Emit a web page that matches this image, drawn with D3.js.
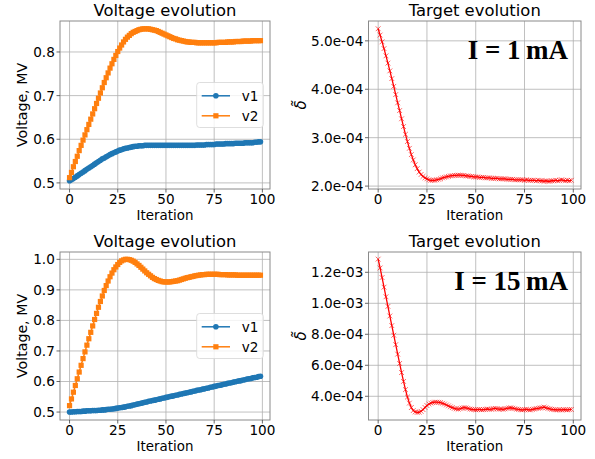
<!DOCTYPE html>
<html><head><meta charset="utf-8">
<script src="https://cdn.jsdelivr.net/npm/d3@7"></script>
<style>body{margin:0;background:#fff} text{font-family:"DejaVu Sans",sans-serif;fill:#000}</style>
</head><body><svg id="c" width="595" height="459"></svg>
<script>
const iterations = d3.range(100);
const xTicks = [0, 25, 50, 75, 100];

const v1_1mA = [0.505,0.507,0.510,0.513,0.516,0.519,0.522,0.525,0.528,0.531,
0.534,0.537,0.540,0.543,0.546,0.549,0.552,0.555,0.557,0.560,
0.562,0.565,0.567,0.569,0.571,0.573,0.575,0.576,0.578,0.579,
0.580,0.581,0.582,0.583,0.584,0.584,0.585,0.585,0.585,0.586,
0.586,0.586,0.586,0.586,0.586,0.586,0.586,0.586,0.586,0.586,
0.586,0.586,0.586,0.586,0.586,0.586,0.586,0.586,0.586,0.586,
0.586,0.586,0.586,0.586,0.586,0.586,0.587,0.587,0.587,0.587,
0.587,0.588,0.588,0.588,0.588,0.588,0.589,0.589,0.589,0.589,
0.589,0.590,0.590,0.590,0.590,0.590,0.591,0.591,0.591,0.591,
0.591,0.592,0.592,0.592,0.592,0.592,0.593,0.593,0.594,0.594];

const v2_1mA = [0.512,0.524,0.537,0.549,0.561,0.574,0.586,0.598,0.610,0.622,
0.634,0.646,0.658,0.670,0.682,0.694,0.706,0.718,0.730,0.741,
0.752,0.763,0.773,0.783,0.792,0.801,0.809,0.816,0.823,0.829,
0.834,0.838,0.842,0.845,0.847,0.849,0.851,0.852,0.853,0.853,
0.853,0.853,0.852,0.851,0.850,0.849,0.847,0.845,0.843,0.841,
0.839,0.837,0.835,0.833,0.831,0.830,0.828,0.827,0.826,0.825,
0.824,0.823,0.823,0.822,0.822,0.822,0.821,0.821,0.821,0.821,
0.821,0.821,0.821,0.821,0.821,0.821,0.821,0.822,0.822,0.822,
0.822,0.822,0.823,0.823,0.823,0.823,0.824,0.824,0.824,0.824,
0.825,0.825,0.825,0.825,0.825,0.826,0.826,0.826,0.826,0.826];

const delta_1mA = [5.25e-4,5.12e-4,4.98e-4,4.84e-4,4.69e-4,4.54e-4,4.38e-4,4.22e-4,4.06e-4,3.89e-4,
3.72e-4,3.56e-4,3.39e-4,3.23e-4,3.07e-4,2.92e-4,2.78e-4,2.65e-4,2.54e-4,2.44e-4,
2.36e-4,2.29e-4,2.24e-4,2.20e-4,2.17e-4,2.15e-4,2.13e-4,2.12e-4,2.12e-4,2.12e-4,
2.13e-4,2.14e-4,2.15e-4,2.17e-4,2.18e-4,2.19e-4,2.20e-4,2.21e-4,2.215e-4,2.22e-4,
2.22e-4,2.225e-4,2.225e-4,2.22e-4,2.22e-4,2.21e-4,2.21e-4,2.20e-4,2.20e-4,2.19e-4,
2.19e-4,2.19e-4,2.18e-4,2.18e-4,2.18e-4,2.17e-4,2.17e-4,2.17e-4,2.16e-4,2.16e-4,
2.16e-4,2.16e-4,2.15e-4,2.15e-4,2.15e-4,2.15e-4,2.14e-4,2.14e-4,2.14e-4,2.14e-4,
2.13e-4,2.13e-4,2.13e-4,2.13e-4,2.13e-4,2.12e-4,2.13e-4,2.12e-4,2.12e-4,2.12e-4,
2.12e-4,2.11e-4,2.12e-4,2.11e-4,2.11e-4,2.10e-4,2.11e-4,2.10e-4,2.10e-4,2.11e-4,
2.11e-4,2.12e-4,2.11e-4,2.12e-4,2.13e-4,2.12e-4,2.11e-4,2.12e-4,2.11e-4,2.12e-4];

const v1_15mA = [0.500,0.500,0.501,0.501,0.502,0.502,0.502,0.503,0.503,0.504,
0.504,0.504,0.505,0.505,0.505,0.506,0.506,0.507,0.507,0.508,
0.509,0.509,0.510,0.511,0.512,0.513,0.514,0.515,0.516,0.517,
0.519,0.520,0.521,0.523,0.524,0.526,0.527,0.529,0.530,0.532,
0.533,0.535,0.536,0.538,0.539,0.540,0.542,0.543,0.545,0.546,
0.548,0.549,0.551,0.552,0.553,0.555,0.556,0.558,0.559,0.561,
0.562,0.563,0.565,0.566,0.568,0.569,0.571,0.572,0.573,0.575,
0.576,0.578,0.579,0.581,0.582,0.584,0.585,0.587,0.588,0.589,
0.591,0.592,0.594,0.595,0.596,0.598,0.599,0.601,0.602,0.603,
0.605,0.606,0.608,0.609,0.610,0.612,0.613,0.614,0.616,0.617];

const v2_15mA = [0.521,0.543,0.565,0.587,0.609,0.631,0.653,0.675,0.697,0.719,
0.740,0.761,0.782,0.803,0.823,0.843,0.862,0.880,0.898,0.914,
0.929,0.943,0.955,0.966,0.975,0.983,0.990,0.995,0.998,1.000,
1.000,0.999,0.997,0.994,0.990,0.985,0.980,0.974,0.968,0.962,
0.956,0.951,0.946,0.941,0.937,0.934,0.931,0.929,0.927,0.926,
0.926,0.926,0.926,0.927,0.928,0.929,0.930,0.932,0.934,0.936,
0.938,0.940,0.941,0.943,0.944,0.946,0.947,0.948,0.949,0.950,
0.950,0.951,0.951,0.951,0.951,0.951,0.951,0.951,0.950,0.950,
0.950,0.950,0.949,0.949,0.949,0.949,0.949,0.948,0.948,0.948,
0.948,0.948,0.948,0.948,0.948,0.948,0.948,0.948,0.948,0.948];

const delta_15mA = [12.85e-4,12.28e-4,11.66e-4,11.04e-4,10.42e-4,9.80e-4,9.18e-4,8.56e-4,7.94e-4,7.33e-4,
6.72e-4,6.12e-4,5.53e-4,4.96e-4,4.43e-4,3.95e-4,3.56e-4,3.27e-4,3.08e-4,2.99e-4,
2.96e-4,2.97e-4,3.03e-4,3.14e-4,3.28e-4,3.40e-4,3.50e-4,3.56e-4,3.60e-4,3.62e-4,
3.62e-4,3.61e-4,3.59e-4,3.55e-4,3.50e-4,3.44e-4,3.38e-4,3.32e-4,3.27e-4,3.22e-4,
3.19e-4,3.17e-4,3.20e-4,3.24e-4,3.27e-4,3.25e-4,3.22e-4,3.18e-4,3.16e-4,3.14e-4,
3.13e-4,3.14e-4,3.15e-4,3.13e-4,3.14e-4,3.16e-4,3.18e-4,3.16e-4,3.17e-4,3.20e-4,
3.22e-4,3.19e-4,3.17e-4,3.18e-4,3.16e-4,3.19e-4,3.22e-4,3.24e-4,3.26e-4,3.23e-4,
3.20e-4,3.17e-4,3.15e-4,3.13e-4,3.12e-4,3.14e-4,3.16e-4,3.13e-4,3.12e-4,3.15e-4,
3.18e-4,3.21e-4,3.22e-4,3.25e-4,3.27e-4,3.30e-4,3.26e-4,3.22e-4,3.19e-4,3.16e-4,
3.14e-4,3.13e-4,3.12e-4,3.13e-4,3.12e-4,3.14e-4,3.13e-4,3.12e-4,3.14e-4,3.15e-4];

const voltTicksA = [0.5, 0.6, 0.7, 0.8];
const voltLabelsA = ["0.5", "0.6", "0.7", "0.8"];
const voltTicksB = [0.5, 0.6, 0.7, 0.8, 0.9, 1.0];
const voltLabelsB = ["0.5", "0.6", "0.7", "0.8", "0.9", "1.0"];
const deltaTicksA = [2e-4, 3e-4, 4e-4, 5e-4];
const deltaLabelsA = ["2.0e-04", "3.0e-04", "4.0e-04", "5.0e-04"];
const deltaTicksB = [4e-4, 6e-4, 8e-4, 10e-4, 12e-4];
const deltaLabelsB = ["4.0e-04", "6.0e-04", "8.0e-04", "1.0e-03", "1.2e-03"];
const seriesNames = ["v1", "v2"];
const notes = ["I = 1\u2009mA", "I = 15\u2009mA"];

const svg = d3.select("#c");
const BLUE = "#1f77b4", ORANGE = "#ff7f0e", RED = "#ff0000";
const TICKFS = 13.6;

function panel(o) {
  const x = d3.scaleLinear().domain([-4.95, 103.95]).range([o.x0, o.x1]);
  const y = d3.scaleLinear().domain(o.yDomain).range([o.y1, o.y0]);
  const g = svg.append("g");
  g.selectAll(".gx").data(xTicks).enter().append("line")
    .attr("x1", d => x(d)).attr("x2", d => x(d)).attr("y1", o.y0).attr("y2", o.y1)
    .attr("stroke", "#b0b0b0").attr("stroke-width", 0.8);
  g.selectAll(".gy").data(o.yTicks).enter().append("line")
    .attr("y1", d => y(d)).attr("y2", d => y(d)).attr("x1", o.x0).attr("x2", o.x1)
    .attr("stroke", "#b0b0b0").attr("stroke-width", 0.8);
  o.series.forEach(s => {
    const line = d3.line().x((d, i) => x(iterations[i])).y(d => y(d));
    g.append("path").attr("d", line(s.data)).attr("fill", "none")
      .attr("stroke", s.color).attr("stroke-width", s.lw);
    const mg = g.append("g");
    s.data.forEach((d, i) => drawMarker(mg, s.marker, x(iterations[i]), y(d), s.color));
  });
  g.append("rect").attr("x", o.x0).attr("y", o.y0).attr("width", o.x1 - o.x0).attr("height", o.y1 - o.y0)
    .attr("fill", "none").attr("stroke", "#8a8a8a").attr("stroke-width", 1);
  xTicks.forEach(t => {
    g.append("line").attr("x1", x(t)).attr("x2", x(t)).attr("y1", o.y1).attr("y2", o.y1 + 3.5)
      .attr("stroke", "#444").attr("stroke-width", 0.8);
    g.append("text").attr("x", x(t)).attr("y", o.y1 + 15.2).attr("text-anchor", "middle")
      .attr("font-size", TICKFS).text(t);
  });
  o.yTicks.forEach((t, i) => {
    g.append("line").attr("x1", o.x0 - 3.5).attr("x2", o.x0).attr("y1", y(t)).attr("y2", y(t))
      .attr("stroke", "#444").attr("stroke-width", 0.8);
    g.append("text").attr("x", o.x0 - 5.2).attr("y", y(t) + 4.9).attr("text-anchor", "end")
      .attr("font-size", TICKFS).text(o.yLabels[i]);
  });
  const cx = (o.x0 + o.x1) / 2;
  g.append("text").attr("x", cx).attr("y", o.y0 - 5).attr("text-anchor", "middle")
    .attr("font-size", 16.4).text(o.title);
  g.append("text").attr("x", cx).attr("y", o.y1 + 31).attr("text-anchor", "middle")
    .attr("font-size", 13.4).text("Iteration");
  g.append("text").attr("transform", `translate(${o.ylabX},${(o.y0 + o.y1) / 2}) rotate(-90)`)
    .attr("text-anchor", "middle").attr("font-size", o.ylabFs)
    .attr("font-style", o.ylabItalic ? "italic" : "normal").text(o.ylabel);
  if (o.legend) {
    const w = 66.6, h = 45, lx = o.x1 - 6.7 - w, ly = (o.y0 + o.y1) / 2 - h / 2;
    g.append("rect").attr("x", lx).attr("y", ly).attr("width", w).attr("height", h).attr("rx", 3)
      .attr("fill", "#fff").attr("fill-opacity", 0.8).attr("stroke", "#d5d5d5").attr("stroke-width", 0.8);
    o.series.forEach((s, i) => {
      const yy = ly + 13.3 + i * 20;
      g.append("line").attr("x1", lx + 5).attr("x2", lx + 33.3).attr("y1", yy).attr("y2", yy)
        .attr("stroke", s.color).attr("stroke-width", 1.5);
      drawMarker(g, s.marker, lx + 19.2, yy, s.color);
      g.append("text").attr("x", lx + 45).attr("y", yy + 4.8).attr("font-size", 13.6).text(seriesNames[i]);
    });
  }
  if (o.note) {
    g.append("text").attr("x", 568).attr("y", o.y0 + 37.5).attr("text-anchor", "end")
      .attr("font-size", 27).attr("font-weight", "bold")
      .style("font-family", "'Liberation Serif','Times New Roman',serif").text(o.note);
  }
}

function drawMarker(g, m, cx, cy, c) {
  if (m === "o") g.append("circle").attr("cx", cx).attr("cy", cy).attr("r", 2.8).attr("fill", c);
  else if (m === "s") g.append("rect").attr("x", cx - 2.6).attr("y", cy - 2.6).attr("width", 5.2).attr("height", 5.2).attr("fill", c);
  else if (m === "x") g.append("path")
    .attr("d", `M${cx-2.4},${cy-2.4}L${cx+2.4},${cy+2.4}M${cx-2.4},${cy+2.4}L${cx+2.4},${cy-2.4}`)
    .attr("stroke", c).attr("stroke-width", 1).attr("stroke-opacity", 0.6).attr("fill", "none");
}

panel({x0: 60, x1: 270, y0: 21, y1: 189, yDomain: [0.486, 0.871], yTicks: voltTicksA, yLabels: voltLabelsA,
  title: "Voltage evolution", ylabel: "Voltage, MV", ylabX: 26.5, ylabFs: 14.2, legend: true,
  series: [{data: v1_1mA, color: BLUE, marker: "o", lw: 1.5}, {data: v2_1mA, color: ORANGE, marker: "s", lw: 1.5}]});
panel({x0: 368.5, x1: 581, y0: 21, y1: 189, yDomain: [1.94e-4, 5.41e-4], yTicks: deltaTicksA, yLabels: deltaLabelsA,
  title: "Target evolution", ylabel: "\u03B4\u0303", ylabItalic: true, ylabX: 306, ylabFs: 15, note: notes[0],
  series: [{data: delta_1mA, color: RED, marker: "x", lw: 1.3}]});
panel({x0: 60, x1: 270, y0: 252, y1: 420, yDomain: [0.474, 1.024], yTicks: voltTicksB, yLabels: voltLabelsB,
  title: "Voltage evolution", ylabel: "Voltage, MV", ylabX: 26.5, ylabFs: 14.2, legend: true,
  series: [{data: v1_15mA, color: BLUE, marker: "o", lw: 1.5}, {data: v2_15mA, color: ORANGE, marker: "s", lw: 1.5}]});
panel({x0: 368.5, x1: 581, y0: 252, y1: 420, yDomain: [2.47e-4, 13.31e-4], yTicks: deltaTicksB, yLabels: deltaLabelsB,
  title: "Target evolution", ylabel: "\u03B4\u0303", ylabItalic: true, ylabX: 306, ylabFs: 15, note: notes[1],
  series: [{data: delta_15mA, color: RED, marker: "x", lw: 1.3}]});
</script></body></html>
